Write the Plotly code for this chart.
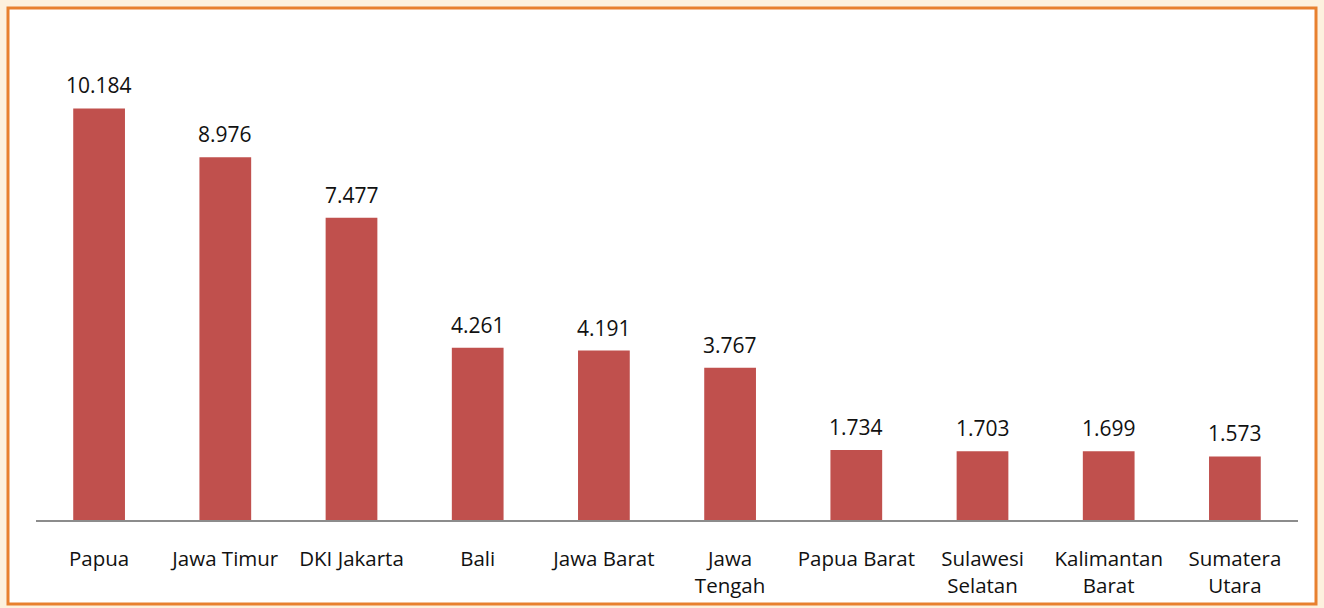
import plotly.graph_objects as go

categories = ["Papua", "Jawa Timur", "DKI Jakarta", "Bali", "Jawa Barat", "Jawa<br>Tengah",
              "Papua Barat", "Sulawesi<br>Selatan", "Kalimantan<br>Barat", "Sumatera<br>Utara"]
values = [10.184, 8.976, 7.477, 4.261, 4.191, 3.767, 1.734, 1.703, 1.699, 1.573]
value_labels = ["10.184", "8.976", "7.477", "4.261", "4.191", "3.767", "1.734", "1.703", "1.699", "1.573"]

W, H = 1324, 608
L, R, T, B = 36, 26, 35, 88
pw, ph = W - L - R, H - T - B

def px_x(p):
    return (p - L) / pw

def px_y(p):
    return (H - B - p) / ph

font = "Open Sans, Lato, sans-serif"

fig = go.Figure(go.Bar(
    x=categories, y=values,
    marker=dict(color="#c0504d", line=dict(width=0)),
    width=0.41,
    hoverinfo="skip",
))

annotations = [
    dict(x=c, y=v, text=t, showarrow=False, xref="x", yref="y",
         yanchor="bottom", yshift=7, font=dict(family=font, size=21, color="#111111"))
    for c, v, t in zip(categories, values, value_labels)
]

fig.update_layout(
    width=W, height=H,
    margin=dict(l=L, r=R, t=T, b=B, pad=0, autoexpand=False),
    paper_bgcolor="#fdf1de",
    plot_bgcolor="rgba(0,0,0,0)",
    showlegend=False,
    font=dict(family=font, size=20, color="#111111"),
    annotations=annotations,
    shapes=[dict(type="rect", xref="paper", yref="paper", layer="below",
                 x0=px_x(8), x1=px_x(1316), y0=px_y(604), y1=px_y(8),
                 fillcolor="white", line=dict(color="#e8802e", width=3))],
    xaxis=dict(showgrid=False, showline=True, linecolor="#8c8c8c", linewidth=1.5,
               ticks="", ticklabelstandoff=20, automargin=False,
               tickfont=dict(family=font, size=20.5, color="#111111"),
               zeroline=False),
    yaxis=dict(range=[0, 12], visible=False, showgrid=False, zeroline=False, automargin=False),
)

fig.write_html("out.html", config={"displayModeBar": False})

with open("out.html", "r", encoding="utf-8") as f:
    html = f.read()
html = html.replace("<head>", "<head><style>html,body{margin:0;padding:0;overflow:hidden;}</style>", 1)
with open("out.html", "w", encoding="utf-8") as f:
    f.write(html)
